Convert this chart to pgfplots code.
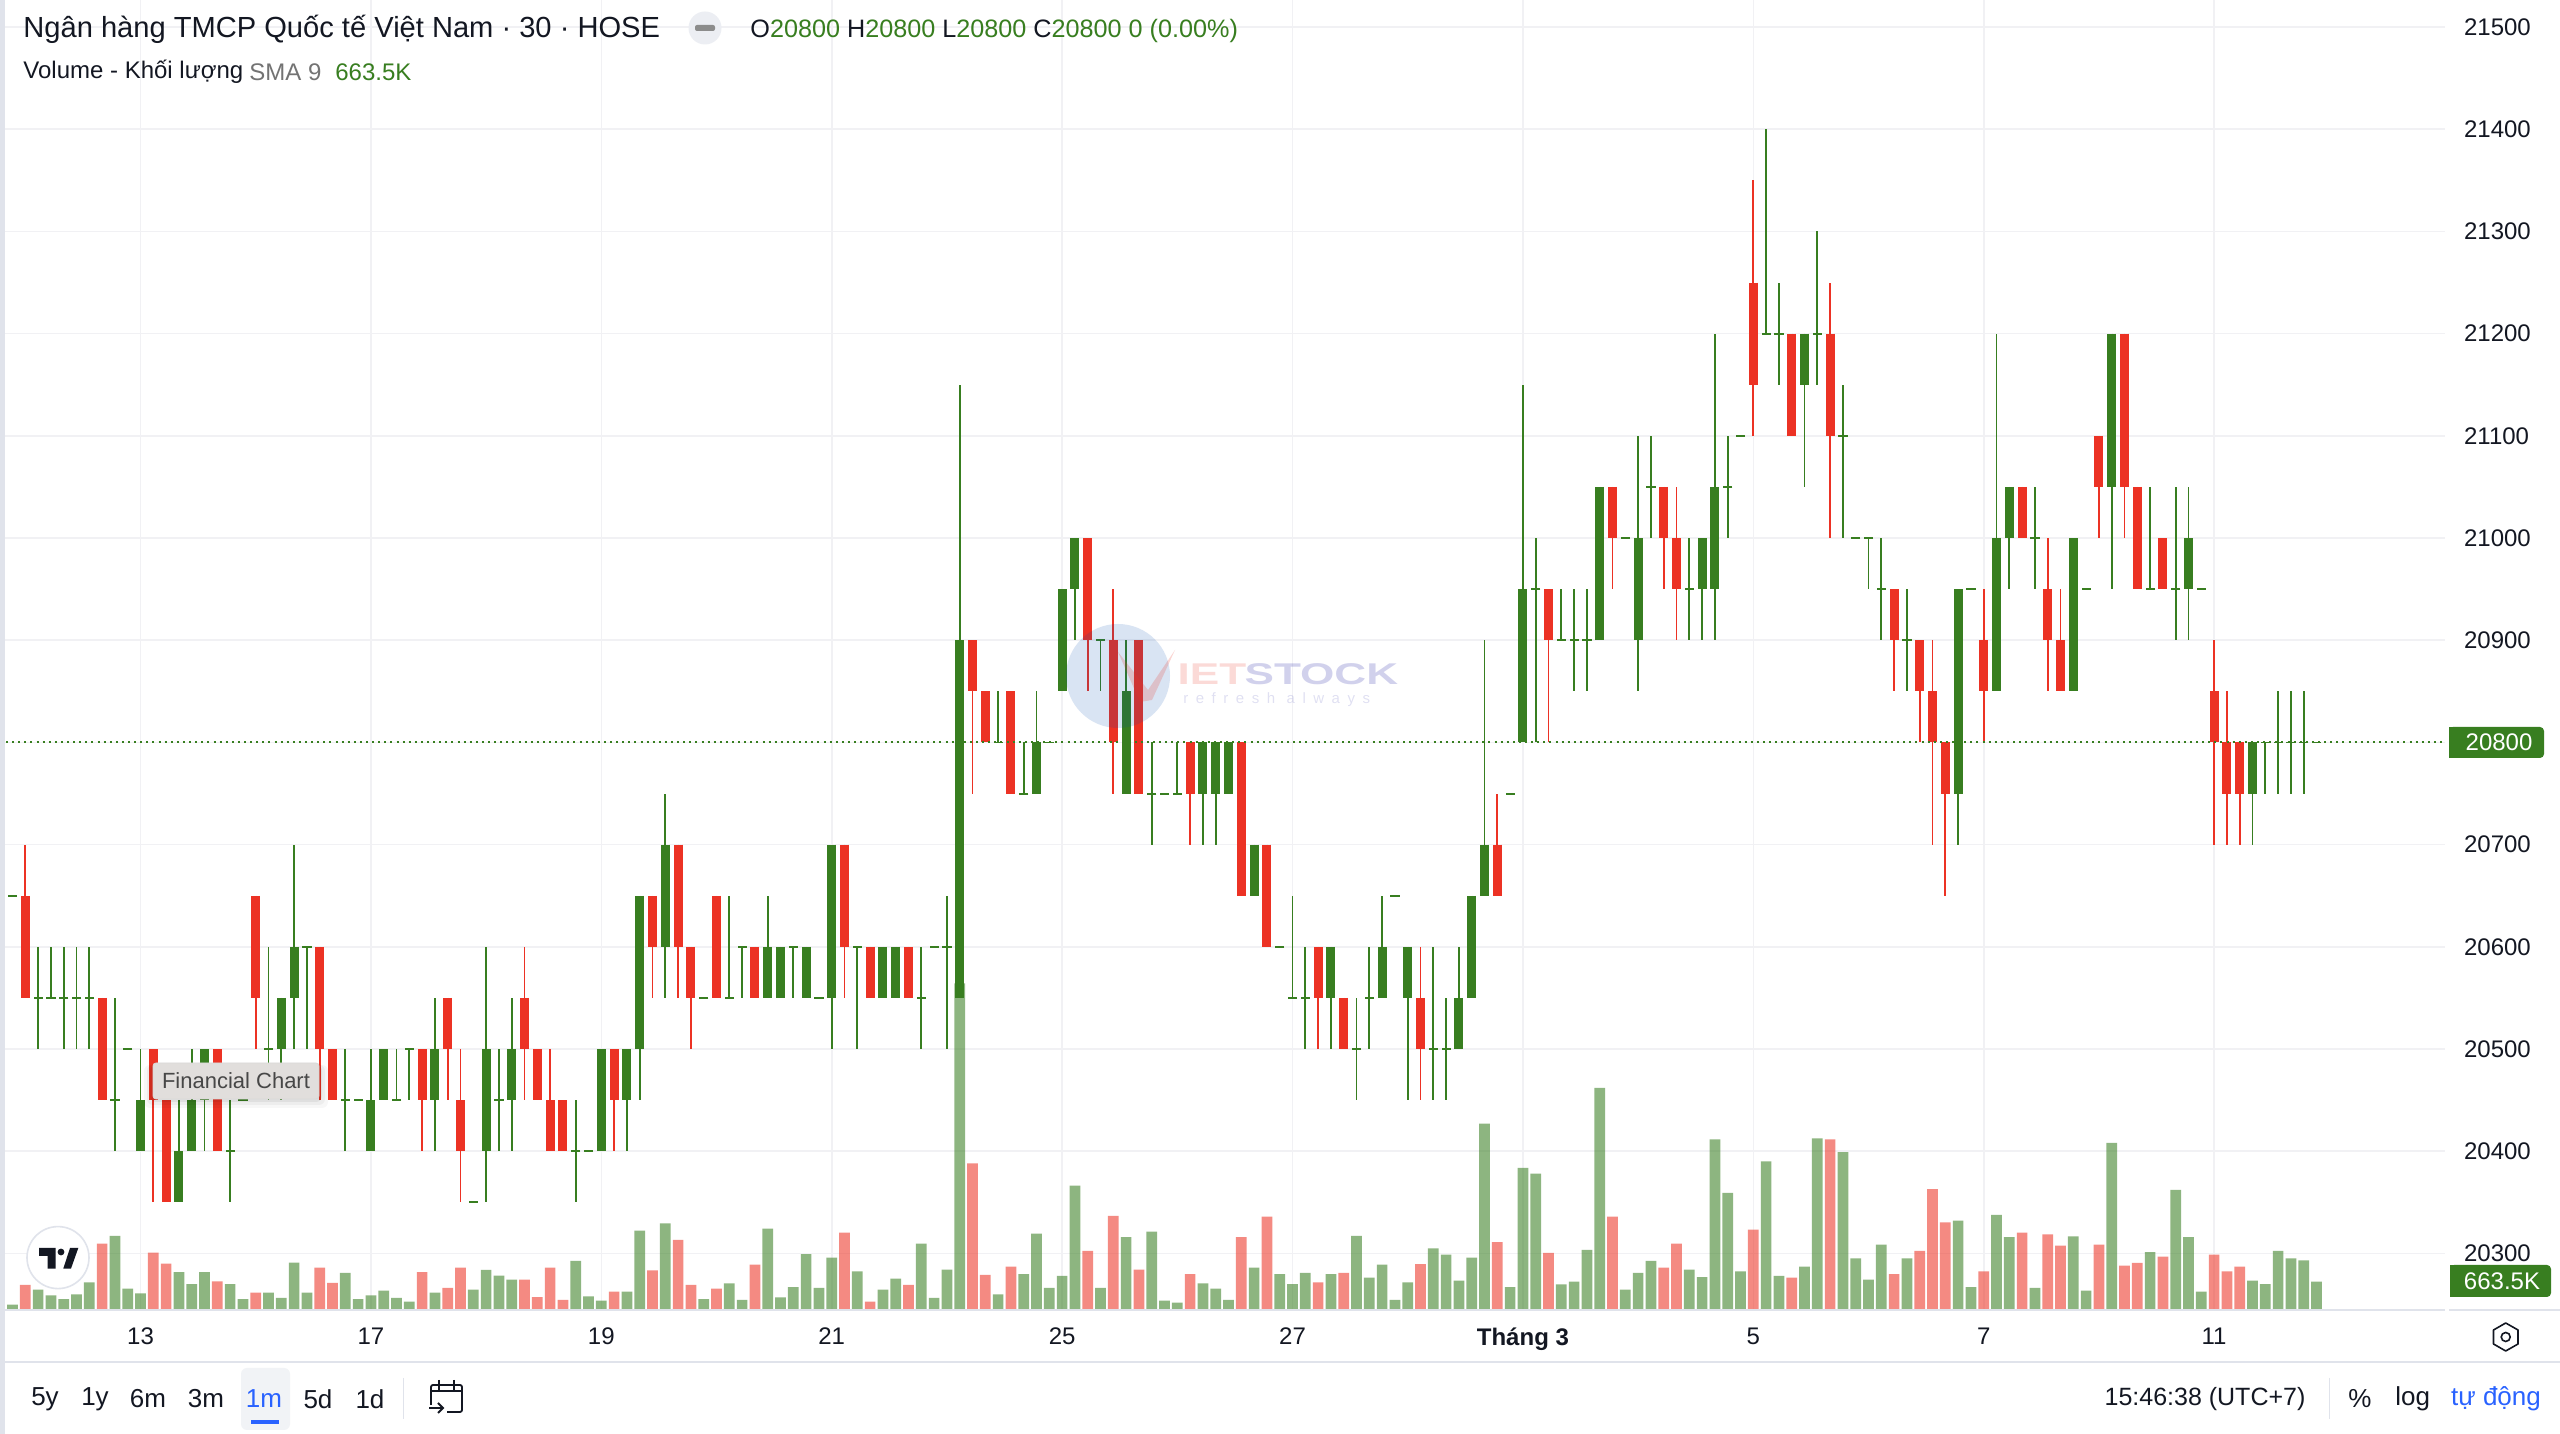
\documentclass[border=0pt]{standalone}
\usepackage{fontspec}
\setmainfont{Liberation Sans}
\newfontfamily\wmfont[LetterSpace=50]{Liberation Sans}
\usepackage{pgfplots}
\usepackage{pgfplotstable}
\pgfplotsset{compat=1.18}
\definecolor{gg}{RGB}{56,126,32}
\definecolor{rr}{RGB}{236,50,36}
\definecolor{gridc}{RGB}{241,241,244}
\definecolor{rulec}{RGB}{224,227,235}
\definecolor{ink}{RGB}{19,23,34}
\definecolor{blu}{RGB}{41,98,255}

% i top bottom wicktop wickbottom
\pgfplotstableread{
i top bot wt wb
10 20450 20400 20500 20400
13 20400 20350 20450 20350
14 20450 20400 20500 20400
15 20500 20450 20500 20400
21 20550 20500 20550 20450
22 20600 20550 20700 20500
28 20450 20400 20500 20400
29 20500 20450 20500 20450
33 20500 20450 20550 20400
37 20500 20400 20600 20350
39 20500 20450 20550 20400
46 20500 20400 20500 20400
48 20500 20450 20500 20400
49 20650 20500 20650 20450
51 20700 20600 20750 20550
59 20600 20550 20650 20550
60 20600 20550 20600 20550
62 20600 20550 20600 20550
64 20700 20550 20700 20500
68 20600 20550 20600 20550
69 20600 20550 20600 20550
74 20900 20550 21150 20550
80 20800 20750 20850 20750
82 20950 20850 20950 20850
83 21000 20950 21000 20900
87 20850 20750 20900 20750
93 20800 20750 20800 20700
94 20800 20750 20800 20700
95 20800 20750 20800 20750
97 20700 20650 20700 20650
103 20600 20550 20600 20500
107 20600 20550 20650 20550
109 20600 20550 20600 20450
113 20550 20500 20600 20500
114 20650 20550 20650 20550
115 20700 20650 20900 20650
118 20950 20800 21150 20800
124 21050 20900 21050 20900
127 21000 20900 21100 20850
132 21000 20950 21000 20900
133 21050 20950 21200 20900
140 21200 21150 21200 21050
152 20950 20750 20950 20700
155 21000 20850 21200 20850
156 21050 21000 21050 20950
161 21000 20850 21000 20850
164 21200 21050 21200 20950
170 21000 20950 21050 20900
175 20800 20750 20800 20700
}\greentab
\pgfplotstableread{
i top bot wt wb
1 20650 20550 20700 20550
7 20550 20450 20550 20450
11 20500 20450 20500 20350
12 20450 20350 20450 20350
16 20500 20400 20500 20400
19 20650 20550 20650 20500
24 20600 20500 20600 20450
25 20500 20450 20500 20450
32 20500 20450 20500 20400
34 20550 20500 20550 20450
35 20450 20400 20500 20350
40 20550 20500 20600 20450
41 20500 20450 20500 20450
42 20450 20400 20500 20400
43 20450 20400 20450 20400
47 20500 20450 20500 20400
50 20650 20600 20650 20550
52 20700 20600 20700 20550
53 20600 20550 20600 20500
55 20650 20550 20650 20550
58 20600 20550 20600 20550
65 20700 20600 20700 20550
67 20600 20550 20600 20550
70 20600 20550 20600 20550
75 20900 20850 20900 20750
76 20850 20800 20850 20800
78 20850 20750 20850 20750
84 21000 20900 21000 20850
86 20900 20800 20950 20750
88 20900 20750 20900 20750
92 20800 20750 20800 20700
96 20800 20650 20800 20650
98 20700 20600 20700 20600
102 20600 20550 20600 20500
104 20550 20500 20550 20500
110 20550 20500 20600 20450
116 20700 20650 20750 20650
120 20950 20900 20950 20800
125 21050 21000 21050 20950
129 21050 21000 21050 20950
130 21000 20950 21050 20900
136 21250 21150 21350 21100
139 21200 21100 21200 21100
142 21200 21100 21250 21000
147 20950 20900 20950 20850
149 20900 20850 20900 20800
150 20850 20800 20900 20700
151 20800 20750 20800 20650
154 20900 20850 20950 20800
157 21050 21000 21050 21000
159 20950 20900 21000 20850
160 20900 20850 20950 20850
163 21100 21050 21100 21000
165 21200 21050 21200 21000
166 21050 20950 21050 20950
168 21000 20950 21000 20950
172 20850 20800 20900 20700
173 20800 20750 20850 20700
174 20800 20750 20800 20700
}\redtab
\pgfplotstableread{
i p wt wb
0 20650 20650 20650
2 20550 20600 20500
3 20550 20600 20550
4 20550 20600 20500
5 20550 20600 20500
6 20550 20600 20500
8 20450 20550 20400
9 20500 20500 20500
17 20400 20450 20350
18 20450 20450 20450
20 20500 20600 20450
23 20600 20600 20500
26 20450 20500 20400
27 20450 20450 20450
30 20450 20500 20450
31 20500 20500 20450
36 20350 20350 20350
38 20450 20500 20400
44 20400 20450 20350
45 20400 20400 20400
54 20550 20550 20550
56 20550 20650 20550
57 20600 20600 20550
61 20600 20600 20550
63 20550 20550 20550
66 20600 20600 20500
71 20550 20600 20500
72 20600 20600 20600
73 20600 20650 20500
77 20800 20850 20800
79 20750 20800 20750
81 20800 20800 20800
85 20900 20900 20850
89 20750 20800 20700
90 20750 20750 20750
91 20750 20800 20750
99 20600 20600 20600
100 20550 20650 20550
101 20550 20600 20500
105 20500 20550 20450
106 20550 20600 20500
108 20650 20650 20650
111 20500 20600 20450
112 20500 20550 20450
117 20750 20750 20750
119 20950 21000 20800
121 20900 20950 20900
122 20900 20950 20850
123 20900 20950 20850
126 21000 21000 21000
128 21050 21100 21000
131 20950 21000 20900
134 21050 21100 21000
135 21100 21100 21100
137 21200 21400 21200
138 21200 21250 21150
141 21200 21300 21150
143 21100 21150 21000
144 21000 21000 21000
145 21000 21000 20950
146 20950 21000 20900
148 20900 20950 20850
153 20950 20950 20950
158 21000 21050 20950
162 20950 20950 20950
167 20950 21050 20950
169 20950 21050 20900
171 20950 20950 20950
176 20800 20800 20750
177 20800 20850 20750
178 20800 20850 20750
179 20800 20850 20750
180 20800 20800 20800
}\dojitab
% volume in thousands
\pgfplotstableread{
i v
0 125
2 476
3 343
4 257
5 367
6 647
8 1732
9 499
10 390
13 889
14 608
15 889
17 608
18 257
20 406
21 281
22 1108
23 406
26 866
27 257
28 343
29 452
30 281
31 195
33 406
36 476
37 936
38 803
39 710
44 1147
45 320
46 218
48 429
49 1856
51 2028
54 257
56 624
57 234
59 1903
60 296
61 538
62 1310
63 515
64 1225
66 905
68 476
69 733
71 1552
72 281
73 944
74 7644
77 367
79 842
80 1786
81 515
82 796
83 2909
85 515
87 1708
89 1833
90 218
91 172
93 624
94 499
95 234
97 991
99 842
100 608
101 866
103 842
105 1732
106 757
107 1061
108 234
109 647
111 1443
112 1295
113 686
114 1225
115 4360
117 538
118 3323
119 3190
121 601
122 663
123 1404
124 5195
126 476
127 866
128 1147
131 944
132 772
133 3994
134 2738
135 905
137 3479
138 796
140 1014
141 4017
143 3697
144 1209
145 710
146 1529
148 1209
152 2090
153 538
155 2223
156 1708
158 515
161 1724
162 452
164 3908
167 1357
169 2808
170 1708
171 429
175 686
176 608
177 1381
178 1209
179 1162
180 663.5
}\volg
\pgfplotstableread{
i v
1 585
7 1552
11 1342
12 1084
16 671
19 406
24 991
25 632
32 889
34 515
35 991
40 710
41 304
42 991
43 234
47 429
50 928
52 1638
53 585
55 499
58 1061
65 1810
67 195
70 585
75 3432
76 819
78 1014
84 1381
86 2200
88 944
92 842
96 1708
98 2184
102 647
104 866
110 1076
116 1591
120 1334
125 2184
129 991
130 1552
136 1880
139 757
142 3994
147 842
149 1381
150 2831
151 2051
154 905
157 1810
159 1771
160 1505
163 1529
165 1037
166 1100
168 1248
172 1295
173 905
174 1014
}\volr

\pgfplotsset{
 wick/.style={forget plot,draw=none,mark=none,
   error bars/.cd,y dir=both,y explicit,error mark=none,
   error bar style={line width=.95pt,color=#1}},
 body/.style={forget plot,draw=none,mark=none,
   error bars/.cd,y dir=minus,y explicit,error mark=none,
   error bar style={line width=4.5pt,color=#1}},
}
\begin{document}
\begin{tikzpicture}
\path[use as bounding box,fill=white] (0,0) rectangle (1280pt,717pt);
\begin{axis}[
 at={(0,62pt)},anchor=south west,scale only axis,
 width=1222.5pt,height=655pt,
 xmin=-0.977,xmax=190.04,ymin=20244.7,ymax=21526.5,
 axis line style={draw=none},
 tick style={draw=none},
 yticklabel pos=right,
 xtick={10,28,46,64,82,100,118,136,154,172},
 xticklabels={13,17,19,21,25,27,{\bfseries Tháng 3},5,7,11},
 ytick={20300,20400,20500,20600,20700,20800,20900,21000,21100,21200,21300,21400,21500},
 yticklabels={20300,20400,20500,20600,20700,{},20900,21000,21100,21200,21300,21400,21500},
 yticklabel style={font=\fontsize{12}{14}\selectfont,text=ink,xshift=6pt},
 xticklabel style={font=\fontsize{12}{14}\selectfont,text=ink,yshift=-5.3pt},
 grid=major,
 grid style={gridc,line width=.8pt},
 clip=true,
]
\addplot[wick=gg] table[x=i,y=top,y error plus expr=\thisrow{wt}-\thisrow{top},y error minus expr=\thisrow{top}-\thisrow{wb}]{\greentab};
\addplot[wick=rr] table[x=i,y=top,y error plus expr=\thisrow{wt}-\thisrow{top},y error minus expr=\thisrow{top}-\thisrow{wb}]{\redtab};
\addplot[wick=gg] table[x=i,y=p,y error plus expr=\thisrow{wt}-\thisrow{p},y error minus expr=\thisrow{p}-\thisrow{wb}]{\dojitab};
\addplot[body=gg] table[x=i,y=top,y error minus expr=\thisrow{top}-\thisrow{bot}]{\greentab};
\addplot[body=rr] table[x=i,y=top,y error minus expr=\thisrow{top}-\thisrow{bot}]{\redtab};
\addplot[forget plot,only marks,mark=-,mark size=2.3pt,mark options={line width=.95pt,draw=gg}] table[x=i,y=p]{\dojitab};
\addplot[forget plot,gg,line width=1pt,dash pattern=on 1pt off 2.05pt] coordinates {(-0.977,20800) (190.04,20800)};
\end{axis}
\begin{axis}[
 at={(0,62pt)},anchor=south west,scale only axis,
 width=1222.5pt,height=200pt,
 xmin=-0.977,xmax=190.04,ymin=0,ymax=9360,
 hide axis,
]
\addplot[ybar,bar width=5.35pt,bar shift=0pt,draw=none,fill=gg,fill opacity=.57] table[x=i,y=v]{\volg};
\addplot[ybar,bar width=5.35pt,bar shift=0pt,draw=none,fill=rr,fill opacity=.57] table[x=i,y=v]{\volr};
\end{axis}
\begin{scope}[shift={(0,717pt)},x=.5pt,y=-.5pt]
% frame
\fill[rulec] (0,0) rectangle (5,1434);
\draw[rulec,line width=1pt] (5,1310.5) -- (2445,1310.5) (2449,1310.5) -- (2560,1310.5);
\draw[rulec,line width=1pt] (5,1362.5) -- (2560,1362.5);
% price tags
\fill[gg,rounded corners=2pt] (2449,727) rectangle (2544,758);
\fill[gg] (2449,727) rectangle (2470,758);
\node[text=white,font=\fontsize{12}{14}\selectfont] at (2499,742.5) {20800};
\fill[gg,rounded corners=2pt] (2450,1265) rectangle (2551,1297);
\fill[gg] (2450,1265) rectangle (2470,1297);
\node[text=white,font=\fontsize{12}{14}\selectfont] at (2502,1281) {663.5K};
% headers
\node[anchor=west,inner sep=0,text=ink,font=\fontsize{14.55}{17}\selectfont] at (23,29) {Ngân hàng TMCP Quốc tế Việt Nam · 30 · HOSE};
\fill[rulec!60] (705,28) circle (16.5);
\fill[black!45,rounded corners=1pt] (695,25) rectangle (715,31);
\node[anchor=west,inner sep=0,font=\fontsize{12.6}{15}\selectfont] at (750,31) {\textcolor{ink}{O}\textcolor{gg}{20800} \textcolor{ink}{H}\textcolor{gg}{20800} \textcolor{ink}{L}\textcolor{gg}{20800} \textcolor{ink}{C}\textcolor{gg}{20800} \textcolor{gg}{0 (0.00\%)}};
\node[anchor=west,inner sep=0,text=ink,font=\fontsize{12}{14}\selectfont] at (23,72) {Volume - Khối lượng};
\node[anchor=west,inner sep=0,text=black!55,font=\fontsize{12}{14}\selectfont] at (249,72) {SMA 9};
\node[anchor=west,inner sep=0,text=gg,font=\fontsize{12}{14}\selectfont] at (335,72) {663.5K};
% watermark
\fill[blue!55!black!70!cyan,opacity=.15] (1118,676) circle (52);
\fill[rr,opacity=.2] (1118,652) -- (1148,690) -- (1175,650) -- (1152,700) -- (1140,702) -- cycle;
\node[anchor=west,inner sep=0,opacity=.18,text=rr,font=\fontsize{15}{17}\selectfont\bfseries,xscale=1.47] at (1177,674) {IET};
\node[anchor=west,inner sep=0,opacity=.18,text=blue!60!black,font=\fontsize{15}{17}\selectfont\bfseries,xscale=1.47] at (1244,674) {STOCK};
\node[anchor=west,inner sep=0,opacity=.12,text=blue!60!black,font=\wmfont\fontsize{7.5}{9}\selectfont] at (1183,700) {refresh always};
% tooltip
\foreach \e/\o in {9/.03,6/.04,3/.06}{\fill[black,opacity=\o,rounded corners=3pt] (153-\e,1063+2) rectangle (319+\e,1099+\e);}
\fill[black!12!white!98!orange,rounded corners=1.5pt,draw=white!85!black,line width=.4pt] (153,1063) rectangle (319,1099);
\node[text=black!72,font=\fontsize{11}{13}\selectfont] at (236,1081) {Financial Chart};
% tradingview logo
\fill[white] (58,1257.6) circle (31);
\draw[rulec,line width=.8pt] (58,1257.6) circle (31);
\fill[ink] (39,1248) -- (55.7,1248) -- (55.7,1268.6) -- (47.7,1268.6) -- (47.7,1256) -- (39,1256) -- cycle;
\fill[ink] (61,1252) circle (3.4);
\fill[ink] (63.3,1268.6) -- (71,1268.6) -- (78.3,1248) -- (70,1248) -- cycle;
% toolbar
\fill[rulec!45,rounded corners=3pt] (241,1368) rectangle (290,1430);
\fill[blu] (251,1420) rectangle (279,1424);
\foreach \x/\t in {45/5y,95/1y,148/6m,206/3m,318/5d,370/1d}{\node[text=ink,font=\fontsize{13}{15}\selectfont] at (\x,1399) {\t};}
\node[text=blu,font=\fontsize{13}{15}\selectfont] at (264,1399) {1m};
\draw[rulec,line width=.5pt] (403.6,1378) -- (403.6,1419);
\begin{scope}[ink,line width=.9pt]
\draw (431,1405) -- (431,1388) [rounded corners=1pt] -- (431,1385) -- (462,1385) -- (462,1412) -- (447,1412);
\draw (431,1391) -- (462,1391);
\draw (439,1380) -- (439,1390) (454,1380) -- (454,1390);
\draw (429,1408) -- (443,1408) (438,1403) -- (443,1408) -- (438,1413);
\end{scope}
\node[text=ink,font=\fontsize{12.5}{15}\selectfont] at (2205,1399) {15:46:38 (UTC+7)};
\draw[rulec,line width=.5pt] (2329,1378) -- (2329,1419);
\node[text=ink,font=\fontsize{13}{15}\selectfont] at (2360,1399) {\%};
\node[text=ink,font=\fontsize{13}{15}\selectfont] at (2412.6,1399) {log};
\node[text=blu,font=\fontsize{13}{15}\selectfont] at (2496,1399) {tự động};
% settings icon
\draw[ink,line width=.8pt,line join=round] (2505.7,1323) -- (2518,1330) -- (2518,1344) -- (2505.7,1351) -- (2493.5,1344) -- (2493.5,1330) -- cycle;
\draw[ink,line width=.8pt] (2505.7,1337) circle (4.5);
\end{scope}
\end{tikzpicture}
\end{document}
